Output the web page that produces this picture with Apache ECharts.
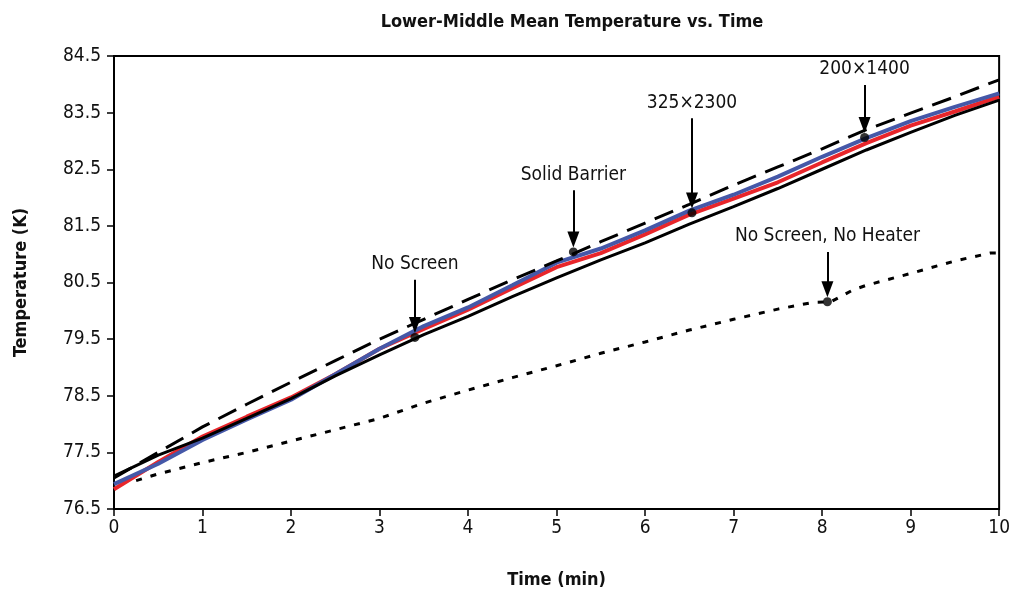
<!DOCTYPE html>
<html>
<head>
<meta charset="utf-8">
<script src="https://cdn.jsdelivr.net/npm/echarts@6/dist/echarts.min.js"></script>
<style>
  html, body { margin: 0; padding: 0; background: #fff; }
  #main { width: 1013px; height: 596px; }
</style>
</head>
<body>
<div id="main"></div>
<script>
// data
var times = [0, 0.5, 1, 1.5, 2, 2.5, 3, 3.5, 4, 4.5, 5, 5.5, 6, 6.5, 7, 7.5, 8, 8.5, 9, 9.5, 10];
var noScreen = [77.08, 77.45, 77.75, 78.1, 78.45, 78.85, 79.22, 79.58, 79.9, 80.25, 80.58, 80.9, 81.2, 81.53, 81.84, 82.16, 82.5, 82.84, 83.15, 83.45, 83.72];
var grid325 = [76.85, 77.33, 77.78, 78.13, 78.47, 78.88, 79.33, 79.68, 80.02, 80.4, 80.77, 81.02, 81.35, 81.7, 81.98, 82.27, 82.62, 82.96, 83.27, 83.52, 83.78];
var grid200 = [76.94, 77.3, 77.72, 78.08, 78.43, 78.88, 79.33, 79.73, 80.06, 80.45, 80.85, 81.1, 81.42, 81.77, 82.05, 82.37, 82.72, 83.05, 83.35, 83.6, 83.84];
var solidBarrier = [77.05, 77.5, 77.95, 78.35, 78.74, 79.12, 79.5, 79.85, 80.2, 80.55, 80.88, 81.22, 81.55, 81.88, 82.22, 82.54, 82.86, 83.2, 83.49, 83.78, 84.08];

var noHeaterTimes = [0.25, 0.5, 1, 1.5, 2, 2.5, 3, 3.5, 4, 4.5, 5, 5.5, 6, 6.5, 7, 7.5, 7.9, 8.1, 8.35, 8.5, 9, 9.5, 9.9, 10];
var noHeater = [77.0, 77.12, 77.32, 77.5, 77.7, 77.9, 78.1, 78.37, 78.6, 78.82, 79.03, 79.25, 79.45, 79.66, 79.85, 80.03, 80.15, 80.16, 80.37, 80.45, 80.66, 80.88, 81.02, 81.02];

// annotated points
var noteNames = ['No Screen', 'Solid Barrier', '325\u00d72300', '200\u00d71400', 'No Screen, No Heater'];
var noteTimes = [3.4, 5.19, 6.53, 8.48, 8.06];
var noteTemps = [79.53, 81.04, 81.73, 83.06, 80.16];
// top of each arrow (K)
var arrowTops = [80.55, 82.13, 83.4, 83.99, 81.04];

var yTicks = [76.5, 77.5, 78.5, 79.5, 80.5, 81.5, 82.5, 83.5, 84.5];

var narrow = "'Liberation Sans Narrow', 'DejaVu Sans Condensed', 'Roboto Condensed', sans-serif";

function pairs(xs, ys) {
    return xs.map(function (x, i) { return [x, ys[i]]; });
}

var chart = echarts.init(document.getElementById('main'));

// arrow head is centred on the end point, so stop the line a bit above the dot
var arrows = noteNames.map(function (n, i) {
    return [
        { name: n, coord: [noteTimes[i], arrowTops[i]] },
        { coord: [noteTimes[i], noteTemps[i] + 0.22] }
    ];
});

var option = {
    animation: false,
    title: {
        text: 'Lower-Middle Mean Temperature vs. Time',
        left: 567,
        textAlign: 'center',
        top: 8,
        textStyle: { fontFamily: narrow, fontSize: 18, fontWeight: 'bold', color: '#111' }
    },
    grid: {
        left: 114, right: 11, top: 56, bottom: 87,
        show: true,
        borderColor: '#000',
        borderWidth: 2
    },
    xAxis: {
        type: 'value',
        min: 0, max: 10, interval: 1,
        name: 'Time (min)',
        nameLocation: 'middle',
        nameGap: 62,
        nameTextStyle: { fontFamily: narrow, fontSize: 18, fontWeight: 'bold', color: '#111' },
        axisLine: { lineStyle: { color: '#000', width: 2 } },
        axisTick: { length: 7, lineStyle: { color: '#000', width: 1.5 } },
        axisLabel: { fontFamily: narrow, fontSize: 19, color: '#111', margin: 10 },
        splitLine: { show: false }
    },
    yAxis: {
        type: 'value',
        min: yTicks[0], max: yTicks[yTicks.length - 1], interval: 1,
        name: 'Temperature (K)',
        nameLocation: 'middle',
        nameGap: 84,
        nameTextStyle: { fontFamily: narrow, fontSize: 18, fontWeight: 'bold', color: '#111' },
        axisLine: { lineStyle: { color: '#000', width: 2 } },
        axisTick: { length: 7, lineStyle: { color: '#000', width: 1.5 } },
        axisLabel: {
            fontFamily: narrow, fontSize: 19, color: '#111', margin: 13,
            formatter: function (v) { return v.toFixed(1); }
        },
        splitLine: { show: false }
    },
    series: [
        {
            name: 'No Screen, No Heater',
            type: 'line',
            data: pairs(noHeaterTimes, noHeater),
            showSymbol: false,
            lineStyle: { color: '#000', width: 3, type: [6, 9] }
        },
        {
            name: '325x2300',
            type: 'line',
            data: pairs(times, grid325),
            showSymbol: false,
            lineStyle: { color: '#e8262b', width: 4 }
        },
        {
            name: '200x1400',
            type: 'line',
            data: pairs(times, grid200),
            showSymbol: false,
            lineStyle: { color: '#4558a8', width: 4 }
        },
        {
            name: 'No Screen',
            type: 'line',
            data: pairs(times, noScreen),
            showSymbol: false,
            lineStyle: { color: '#000', width: 3 }
        },
        {
            name: 'Solid Barrier',
            type: 'line',
            data: pairs(times, solidBarrier),
            showSymbol: false,
            lineStyle: { color: '#000', width: 3, type: [20, 10] }
        },
        {
            name: 'notes',
            type: 'scatter',
            data: pairs(noteTimes, noteTemps),
            symbolSize: 9,
            itemStyle: { color: '#000' },
            z: 5,
            markLine: {
                silent: true,
                symbol: ['none', 'triangle'],
                symbolSize: [12, 16],
                lineStyle: { color: '#000', width: 2, type: 'solid' },
                label: {
                    position: 'start',
                    distance: 6,
                    formatter: function (p) { return p.name; },
                    fontFamily: narrow,
                    fontSize: 19,
                    color: '#111'
                },
                data: arrows
            }
        }
    ]
};

chart.setOption(option);
</script>
</body>
</html>
